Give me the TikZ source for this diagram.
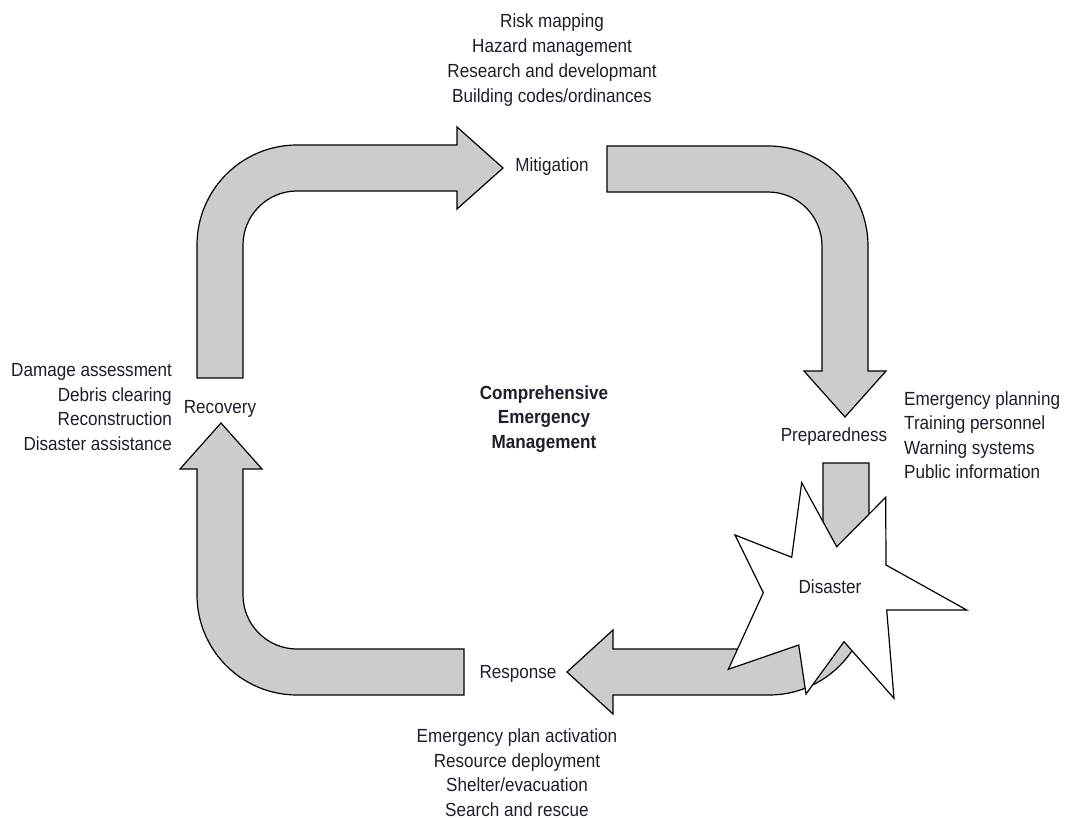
\documentclass[tikz,border=0pt]{standalone}
\usepackage{fontspec}
\setmainfont{Liberation Sans}[FakeStretch=0.9]
\usepackage{tikz}
\usetikzlibrary{positioning}

\definecolor{arrowgray}{RGB}{204,204,204}
\definecolor{inkcol}{RGB}{28,30,42}

\tikzset{
  blockarrow/.style={fill=arrowgray, draw=black, line width=1.2pt, line join=miter},
  stage/.style={inner sep=0pt, text=inkcol, font=\fontsize{19}{24.5}\selectfont},
  tasks/.style={stage, align=center}
}

\begin{document}
\begin{tikzpicture}[x=1pt,y=-1pt]
\useasboundingbox (0,0) rectangle (1068,818);

% recovery -> mitigation
\draw[blockarrow] (197,378) -- (197,245) .. controls (197,189.8) and (241.8,145) .. (297,145) -- (457,145) -- (457,127) -- (503,168) -- (457,209) -- (457,191) -- (297,191) .. controls (267.2,191) and (243,215.2) .. (243,245) -- (243,378) -- cycle;

% mitigation -> preparedness
\draw[blockarrow] (607,146) -- (768,146) .. controls (823.2,146) and (868,190.8) .. (868,246) -- (868,371) -- (886,371) -- (845,417) -- (804,371) -- (822,371) -- (822,246) .. controls (822,216.2) and (797.8,192) .. (768,192) -- (607,192) -- cycle;

% preparedness -> response
\draw[blockarrow] (823,463) -- (869,463) -- (869,595) .. controls (869,650.2) and (824.2,695) .. (769,695) -- (613,695) -- (613,714) -- (567,672) -- (613,630) -- (613,649) -- (769,649) .. controls (798.8,649) and (823,619.2) .. (823,595) -- cycle;

% response -> recovery
\draw[blockarrow] (464,649) -- (297,649) .. controls (267.2,649) and (243,624.8) .. (243,595) -- (243,469) -- (262,469) -- (221,423) -- (180,469) -- (197,469) -- (197,595) .. controls (197,650.2) and (241.8,695) .. (297,695) -- (464,695) -- cycle;

% the burst
\draw[fill=white, line width=1.2pt, line join=miter] (801.7,482.7) -- (836.7,546.7) -- (885.7,497.3) -- (886,565) -- (966.7,610) -- (886.7,610) -- (894,698.3) -- (844,641.7) -- (806,694) -- (798.7,645) -- (728.3,669.3) -- (763.3,592.7) -- (735,535) -- (791.7,557.3) -- cycle;

\node[stage] (mitigation) at (552,167) {Mitigation};
\node[stage] (preparedness) at (834,437) {Preparedness};
\node[stage] (disaster) at (830,587) {Disaster};
\node[stage] (response) at (518,674) {Response};
\node[stage] (recovery) at (220,409) {Recovery};

		\node[tasks, font=\fontsize{19}{25}\selectfont] (mitigationtasks) at (552,60) {Risk mapping\\Hazard management\\Research and developmant\\Building codes/ordinances};
		\node[tasks, anchor=west, align=left] (preparednesstasks) at (904,435) {Emergency planning\\Training personnel\\Warning systems\\Public information};
		\node[tasks] (responsetasks) at (517,772.5) {Emergency plan activation\\Resource deployment\\Shelter/evacuation\\Search and rescue};
		\node[tasks, anchor=east, align=right] (recoverytasks) at (172,407) {Damage assessment\\Debris clearing\\Reconstruction\\Disaster assistance};

\node[tasks, font=\fontsize{19}{24.5}\selectfont\bfseries] (cem) at (544,419) {Comprehensive\\Emergency\\Management};

\end{tikzpicture}
\end{document}
